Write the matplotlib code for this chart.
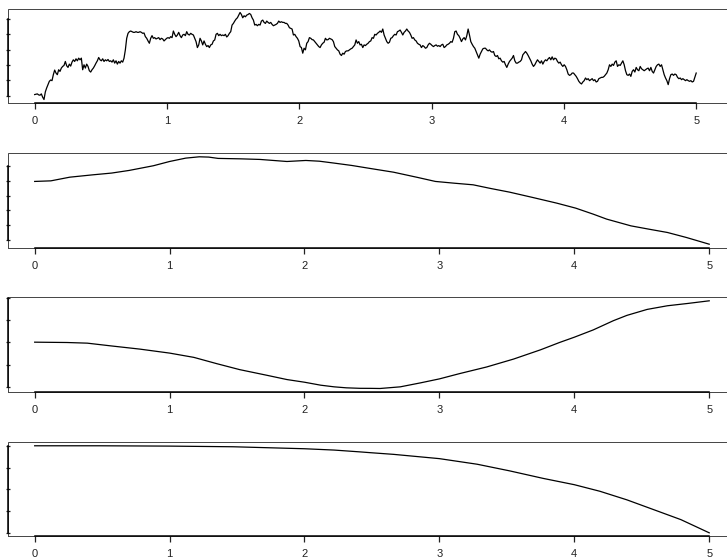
import numpy as np
import matplotlib
matplotlib.use("Agg")
import matplotlib.pyplot as plt
from matplotlib.patches import Rectangle

plt.rcParams['font.family'] = ['Liberation Sans', 'DejaVu Sans']

# panel 1: jagged path, sampled on an even grid over [0, 5]
y1 = [0.03, 0.04, 0.05, 0.02, 0.01, 0.05, -0.05, -0.12, 0.11, 0.23, 0.33, 0.43, 0.47,
      0.45, 0.63, 0.77, 0.68, 0.63, 0.78, 0.73, 0.83, 0.88, 0.91, 1.03,
      0.90, 0.85, 0.95, 0.89, 1.01, 1.08, 1.03, 1.11, 1.05, 1.13, 1.08, 1.13, 0.78, 0.93, 0.83,
      0.95, 0.88, 0.75, 0.71, 0.78, 0.83, 0.90, 0.98, 1.05, 1.15, 1.08, 1.05, 1.11, 1.03, 1.08,
      1.05, 1.09, 1.03, 1.05, 1.01, 1.08, 0.98, 1.05, 0.95, 1.03, 0.98, 1.05, 1.01, 1.13, 1.38,
      1.73, 1.88, 1.93, 1.95, 1.93, 1.91, 1.91, 1.93, 1.91, 1.91, 1.93, 1.91, 1.88, 1.89, 1.78,
      1.73, 1.65, 1.58, 1.73, 1.81, 1.73, 1.75, 1.71, 1.73, 1.75, 1.69, 1.73, 1.71, 1.65, 1.69,
      1.73, 1.75, 1.73, 1.78, 1.75, 1.95, 1.85, 1.78, 1.83, 1.91, 1.81, 1.75, 1.83, 1.85, 1.81,
      1.93, 1.85, 1.83, 1.88, 1.85, 1.83, 1.73, 1.63, 1.45, 1.53, 1.73, 1.65, 1.53, 1.65, 1.55,
      1.48, 1.51, 1.45, 1.53, 1.55, 1.65, 1.68, 1.85, 1.88, 1.81, 1.85, 1.81, 1.83, 1.81, 1.85,
      1.77, 1.81, 1.88, 1.93, 2.13, 2.18, 2.25, 2.31, 2.35, 2.43, 2.51, 2.45, 2.35, 2.41, 2.38,
      2.43, 2.45, 2.48, 2.45, 2.35, 2.28, 2.13, 2.15, 2.11, 2.15, 2.13, 2.25, 2.28, 2.21, 2.18,
      2.25, 2.21, 2.18, 2.21,
      2.15, 2.11, 2.13, 2.15, 2.18, 2.25, 2.21, 2.23, 2.21, 2.21, 2.18, 2.18, 2.13, 2.05, 2.03,
      2.01, 1.83, 1.85, 1.78, 1.73, 1.65, 1.48, 1.45, 1.28, 1.43, 1.38, 1.58, 1.63, 1.75, 1.73,
      1.69, 1.68, 1.63, 1.58, 1.53, 1.48, 1.45, 1.53, 1.58, 1.61, 1.73, 1.68, 1.69, 1.73, 1.71,
      1.69, 1.63, 1.48, 1.43, 1.38, 1.35, 1.25, 1.21, 1.28, 1.25, 1.33, 1.35, 1.35, 1.38, 1.41,
      1.43, 1.48, 1.53, 1.68, 1.58, 1.63, 1.53, 1.55, 1.45, 1.53, 1.51, 1.55, 1.58, 1.63, 1.65,
      1.75, 1.73, 1.85, 1.83, 1.88, 1.91, 1.95, 1.91, 2.01, 1.83, 1.73, 1.63, 1.58, 1.61, 1.73,
      1.75, 1.81, 1.85, 1.83, 1.93, 1.95, 1.98, 1.91, 1.83, 1.91, 1.95, 2.01, 1.95, 1.91, 1.83,
      1.73, 1.75, 1.68, 1.65, 1.58, 1.55, 1.53, 1.45, 1.51, 1.48, 1.43, 1.45, 1.53, 1.58, 1.55,
      1.51, 1.48, 1.51, 1.53, 1.49, 1.51, 1.48, 1.53, 1.55, 1.45, 1.48, 1.53, 1.55, 1.58, 1.63,
      1.61, 1.73, 1.93, 1.95, 1.85, 1.81, 1.73, 1.63, 1.71, 1.75, 1.68, 1.81, 2.01, 1.83, 1.63,
      1.55, 1.48, 1.43, 1.33, 1.23, 1.13, 1.25, 1.33, 1.41, 1.43, 1.43, 1.38, 1.35, 1.38, 1.33,
      1.31, 1.33, 1.21, 1.18, 1.21, 1.11, 1.13,
      1.05, 1.01, 1.03, 0.93, 0.85, 0.95, 1.03, 1.08, 1.13, 1.21, 1.05, 0.98, 0.98, 1.01, 1.03,
      1.08, 1.23, 1.28, 1.33, 1.28, 1.21, 1.13, 1.05, 0.95, 0.88, 0.93, 1.01, 1.08, 1.03, 0.98,
      1.05, 0.95, 1.03, 1.08, 1.05, 1.11, 1.15, 1.08, 1.17, 1.08, 1.13, 1.11, 1.03, 0.98, 1.01,
      0.93, 0.88, 0.93, 0.88, 0.78, 0.65, 0.61, 0.63, 0.68, 0.68, 0.63, 0.58, 0.51, 0.43, 0.38,
      0.35, 0.41, 0.45, 0.53, 0.48, 0.51, 0.45, 0.48, 0.51, 0.45, 0.48, 0.41, 0.43, 0.51, 0.53,
      0.55, 0.55, 0.58, 0.63, 0.68, 0.78, 0.93, 0.88, 0.95, 0.91, 1.01, 1.05, 0.88, 0.93, 0.91,
      0.98, 1.05, 0.93, 0.75, 0.63, 0.61, 0.65, 0.58, 0.73, 0.78, 0.71, 0.85, 0.78, 0.75, 0.88,
      0.81, 0.78, 0.75, 0.78, 0.81, 0.83, 0.75, 0.85, 0.73, 0.68, 0.78, 0.88, 0.93, 0.95, 0.88,
      0.93, 0.78, 0.63, 0.53, 0.45, 0.33, 0.51, 0.63, 0.65, 0.61, 0.65, 0.63, 0.55, 0.51, 0.53,
      0.48, 0.51, 0.48, 0.45, 0.48, 0.45, 0.43, 0.45, 0.41, 0.43, 0.55, 0.68]
t1 = np.linspace(0, 5, len(y1))

# panel 2: smooth hump
t2 = [0, 0.12, 0.26, 0.43, 0.57, 0.70, 0.88, 1.0, 1.12, 1.22, 1.29, 1.36, 1.53, 1.67, 1.87,
      2.01, 2.11, 2.22, 2.35, 2.49, 2.66, 2.84, 2.97, 3.11, 3.25, 3.38, 3.52, 3.69, 3.87, 4.01,
      4.14, 4.24, 4.42, 4.55, 4.69, 4.83, 5.0]
y2 = [3.98, 4.02, 4.27, 4.43, 4.55, 4.73, 5.05, 5.34, 5.57, 5.66, 5.64, 5.55, 5.52, 5.48, 5.34,
      5.41, 5.36, 5.23, 5.07, 4.86, 4.61, 4.25, 3.98, 3.86, 3.75, 3.50, 3.25, 2.89, 2.50, 2.16,
      1.75, 1.41, 0.95, 0.73, 0.50, 0.16, -0.30]

# panel 3: dip then rise
t3 = [0, 0.24, 0.39, 0.56, 0.78, 1.0, 1.18, 1.35, 1.52, 1.72, 1.87, 2.0, 2.12, 2.22, 2.31,
      2.41, 2.49, 2.56, 2.71, 2.86, 3.0, 3.15, 3.35, 3.55, 3.75, 3.89, 4.0, 4.14, 4.29, 4.39,
      4.54, 4.69, 4.84, 5.0]
y3 = [2.00, 1.985, 1.956, 1.837, 1.689, 1.511, 1.319, 1.037, 0.770, 0.519, 0.326, 0.207, 0.074,
      0.0, -0.044, -0.066, -0.068, -0.074, 0.0, 0.178, 0.356, 0.593, 0.889, 1.244, 1.659, 1.985,
      2.222, 2.548, 2.963, 3.200, 3.467, 3.630, 3.733, 3.852]

# panel 4: flat then falling
t4 = [0, 0.48, 1.0, 1.47, 2.0, 2.22, 2.41, 2.49, 2.66, 3.0, 3.28, 3.52, 3.77, 4.0, 4.19, 4.39,
      4.59, 4.79, 5.0]
y4 = [4.00, 4.00, 3.985, 3.955, 3.864, 3.803, 3.720, 3.682, 3.606, 3.409, 3.152, 2.848, 2.500,
      2.212, 1.909, 1.515, 1.061, 0.606, 0.0]

panels = [(t1, y1, np.arange(0, 2.5, 0.462)),
          (t2, y2, np.arange(0, 6)),
          (t3, y3, np.arange(0, 5)),
          (t4, y4, np.arange(0, 5))]

W, H = 727, 559
# axes rectangles in pixels: left, top, width, height
rects = [(8.2, 9, 727.7, 94),
         (7.7, 153.3, 728.5, 94.4),
         (7.7, 297.3, 728.5, 94.7),
         (7.7, 442.3, 728.5, 94)]

fig = plt.figure(figsize=(W / 100, H / 100), dpi=100)

for i, ((t, y, yt), (l, tp, w, h)) in enumerate(zip(panels, rects)):
    ax = fig.add_axes([l / W, (H - tp - h) / H, w / W, h / H])
    ax.plot(t, y, color='black', lw=0.9)
    ax.margins(x=0.04, y=0.04)
    if i == 0:
        # the top panel runs a little past the right edge of the picture
        ax.set_xlim(-0.2, 5.3)
    ax.set_xticks(range(6))
    ax.set_yticks(yt)
    ax.set_yticklabels([])
    for s in ax.spines.values():
        s.set_visible(False)
    ax.add_patch(Rectangle((0, 0), 1, 1, transform=ax.transAxes, fill=False,
                           lw=0.7, edgecolor='#444444', clip_on=False))
    ax.spines['bottom'].set_visible(True)
    ax.spines['bottom'].set_bounds(0, 5)
    ax.spines['bottom'].set_linewidth(1.1)
    ax.spines['left'].set_visible(True)
    ax.spines['left'].set_bounds(yt[0], yt[-1])
    ax.spines['left'].set_linewidth(1.1)
    ax.tick_params(axis='x', direction='out', length=4.3, width=0.9, pad=5,
                   labelsize=8, colors='#222222')
    ax.tick_params(axis='y', direction='inout', length=2.5, width=0.9, colors='#222222')

fig.savefig('out.png', dpi=100)
